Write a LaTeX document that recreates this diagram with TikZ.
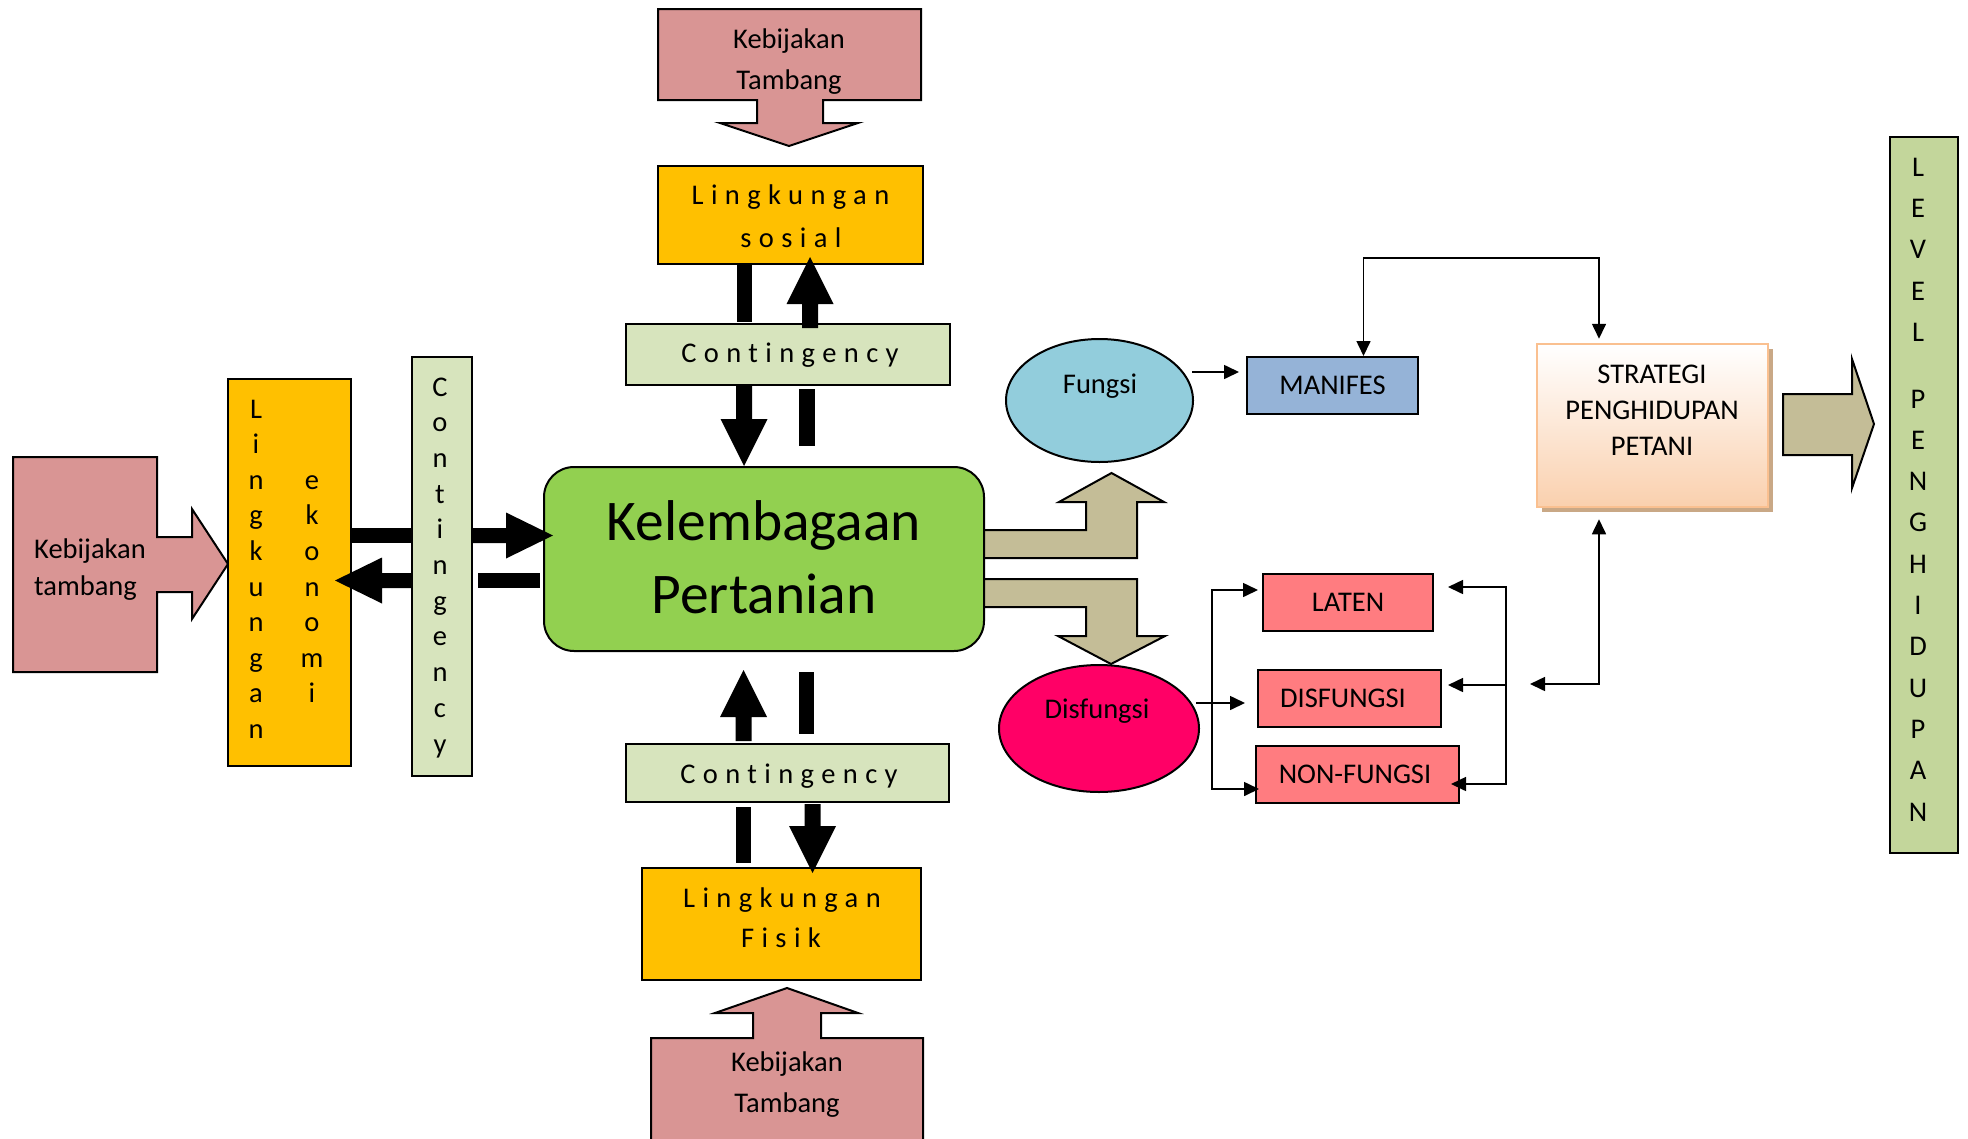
\documentclass[tikz,border=0pt]{standalone}
\usepackage{fontspec}
\setmainfont{Carlito}
\newfontfamily\spacedfont{Carlito}[LetterSpace=26, Ligatures={NoCommon}]
\usetikzlibrary{arrows.meta,shapes.geometric,calc}

\definecolor{kebpink}{HTML}{D99594}
\definecolor{envorange}{HTML}{FFC000}
\definecolor{contgreen}{HTML}{D7E4BD}
\definecolor{coregreen}{HTML}{92D050}
\definecolor{tanarrow}{HTML}{C4BD97}
\definecolor{fungsiblue}{HTML}{92CDDC}
\definecolor{manifesblue}{HTML}{95B3D7}
\definecolor{disfmag}{HTML}{FF0066}
\definecolor{salmon}{HTML}{FF7C80}
\definecolor{levelgreen}{HTML}{C3D69B}
\definecolor{peach}{HTML}{FAD0AE}
\definecolor{peachline}{HTML}{FAC090}
\definecolor{shadowbrown}{HTML}{C9A886}

% thick black block arrows: x/y of the shaft axis, tail, tip
\newcommand{\blkup}[3]{\fill (#1-8,#2) -- (#1-8,#3+47) -- (#1-23.5,#3+47) -- (#1,#3) -- (#1+23.5,#3+47) -- (#1+8,#3+47) -- (#1+8,#2) -- cycle;}
\newcommand{\blkdown}[3]{\fill (#1-8,#2) -- (#1-8,#3-47) -- (#1-23.5,#3-47) -- (#1,#3) -- (#1+23.5,#3-47) -- (#1+8,#3-47) -- (#1+8,#2) -- cycle;}
\newcommand{\blkright}[3]{\fill (#2,#1-7.5) -- (#3-47,#1-7.5) -- (#3-47,#1-23) -- (#3,#1) -- (#3-47,#1+23) -- (#3-47,#1+7.5) -- (#2,#1+7.5) -- cycle;}
\newcommand{\blkleft}[3]{\fill (#2,#1-7.5) -- (#3+47,#1-7.5) -- (#3+47,#1-23) -- (#3,#1) -- (#3+47,#1+23) -- (#3+47,#1+7.5) -- (#2,#1+7.5) -- cycle;}

\begin{document}
\begin{tikzpicture}[x=1pt,y=-1pt,
  every node/.style={font=\fontsize{28.5}{34}\selectfont},
  box/.style={draw=black, line width=2pt, rectangle, inner sep=0pt},
  oval/.style={draw=black, line width=2pt, ellipse, inner sep=0pt},
  txt/.style={inner sep=0pt, anchor=base},
  spaced/.style={txt, font=\spacedfont\fontsize{28.5}{34}\selectfont},
  blockarrow/.style={draw=black, line width=2pt, line join=miter},
  conn/.style={line width=1.6pt, draw=black, -{Triangle[length=15pt,width=14pt]}},
  bothconn/.style={line width=1.6pt, draw=black, {Triangle[length=15pt,width=14pt]}-{Triangle[length=15pt,width=14pt]}},
]
\useasboundingbox (0,0) rectangle (1968,1138);
\clip (0,0) rectangle (1968,1138);

% ---------- policy inputs (pink block arrows) ----------
\draw[blockarrow, fill=kebpink] (658,9) -- (921,9) -- (921,100) -- (823,100) -- (823,123) -- (858,123)
  -- (789,146) -- (720,123) -- (757,123) -- (757,100) -- (658,100) -- cycle;
\node[txt] (kebtop1) at (789,48) {Kebijakan};
\node[txt] (kebtop2) at (789,89) {Tambang};

\draw[blockarrow, fill=kebpink] (651,1160) -- (651,1038) -- (753,1038) -- (753,1013) -- (715,1013)
  -- (787,988) -- (858,1013) -- (821,1013) -- (821,1038) -- (923,1038) -- (923,1160);
\node[txt] (kebbot1) at (787,1071) {Kebijakan};
\node[txt] (kebbot2) at (787,1112) {Tambang};

\draw[blockarrow, fill=kebpink] (13,457) -- (157,457) -- (157,537) -- (192,537) -- (192,509)
  -- (228,564) -- (192,619) -- (192,592) -- (157,592) -- (157,672) -- (13,672) -- cycle;
\node[txt, anchor=base west] (kebleft1) at (34,558) {Kebijakan};
\node[txt, anchor=base west] (kebleft2) at (34,595) {tambang};

% ---------- environments ----------
\node[box, fill=envorange, minimum width=265, minimum height=98] (sosial) at (790.5,215) {};
\node[spaced] (sosial1) at (790.5,204) {Lingkungan};
\node[spaced] (sosial2) at (791,247) {sosial};

\node[box, fill=envorange, minimum width=279, minimum height=112] (fisik) at (781.5,924) {};
\node[spaced] (fisik1) at (782,907) {Lingkungan};
\node[spaced] (fisik2) at (781,947) {Fisik};

\node[box, fill=envorange, minimum width=123, minimum height=387] (ekonomi) at (289.5,572.5) {};
\foreach \ch [count=\i from 0] in {L,i,n,g,k,u,n,g,a,n}
  \node[txt] (ekoA\i) at (256,418+35.6*\i) {\ch};
\foreach \ch [count=\i from 2] in {e,k,o,n,o,m,i}
  \node[txt] (ekoB\i) at (312,418+35.6*\i) {\ch};

% ---------- contingency bands ----------
\node[box, fill=contgreen, minimum width=324, minimum height=61] (conttop) at (788,354.5) {};
\node[spaced] (conttopT) at (790,362) {Contingency};
\node[box, fill=contgreen, minimum width=323, minimum height=58] (contbot) at (787.5,773) {};
\node[spaced] (contbotT) at (789,783) {Contingency};
\node[box, fill=contgreen, minimum width=60, minimum height=419] (contleft) at (442,566.5) {};
\foreach \ch [count=\i from 0] in {C,o,n,t,i,n,g,e,n,c,y}
  \node[txt] (contL\i) at (440,396+35.7*\i) {\ch};

% ---------- outputs of the core (tan arrows) ----------
\draw[blockarrow, fill=tanarrow] (980,558) -- (1137,558) -- (1137,502) -- (1164,502) -- (1111.5,473)
  -- (1059,502) -- (1086,502) -- (1086,530) -- (980,530) -- cycle;
\draw[blockarrow, fill=tanarrow] (980,579) -- (1137,579) -- (1137,636) -- (1165,636) -- (1111,664)
  -- (1058,636) -- (1086,636) -- (1086,607) -- (980,607) -- cycle;

% ---------- core institution ----------
\node[box, fill=coregreen, rounded corners=30, minimum width=440, minimum height=184] (core) at (764,559) {};
\node[txt, font=\fontsize{57.5}{68}\selectfont] (core1) at (764,540) {Kelembagaan};
\node[txt, font=\fontsize{57.5}{68}\selectfont] (core2) at (764,613) {Pertanian};

% ---------- thick black links ----------
\fill (737,264) rectangle (752,322);
\blkup{810}{328}{257}
\blkdown{744}{385}{466}
\fill (799,389) rectangle (815,446);
\blkup{743.5}{741}{670}
\fill (799,672) rectangle (814,734);
\fill (736,807) rectangle (751,863);
\blkdown{812.5}{804}{873}
\fill (351,528) rectangle (412,543);
\blkright{535.5}{472}{553}
\blkleft{580.5}{412}{335}
\fill (478,573) rectangle (540,588);

% ---------- function / dysfunction ----------
\node[oval, fill=fungsiblue, minimum width=187, minimum height=123] (fungsi) at (1099.5,400.5) {};
\node[txt] (fungsiT) at (1100,393) {Fungsi};
\node[oval, fill=disfmag, minimum width=200, minimum height=127] (disf) at (1099,728.5) {};
\node[txt] (disfT) at (1097,718) {Disfungsi};

\node[box, fill=manifesblue, minimum width=171, minimum height=57] (manifes) at (1332.5,385.5) {MANIFES};
\node[box, fill=salmon, minimum width=170, minimum height=57] (laten) at (1348,602.5) {LATEN};
\node[box, fill=salmon, minimum width=183, minimum height=57] (disfbox) at (1349.5,698.5) {DISFUNGSI\hspace*{13pt}};
\node[box, fill=salmon, minimum width=203, minimum height=57] (nonf) at (1357.5,774.5) {NON-FUNGSI\hspace*{5pt}};

% ---------- livelihood strategy ----------
\fill[shadowbrown] (1542,349) rectangle (1773,512);
\node[draw=peachline, line width=2.5pt, inner sep=0pt, top color=white, bottom color=peach,
  minimum width=231, minimum height=163] (strategi) at (1652.5,425.5) {};
\node[txt] (strat1) at (1652,383) {STRATEGI};
\node[txt] (strat2) at (1652,419) {PENGHIDUPAN};
\node[txt] (strat3) at (1652,455) {PETANI};

\draw[blockarrow, fill=tanarrow] (1783,394) -- (1852,394) -- (1852,359) -- (1874,424) -- (1852,488)
  -- (1852,455) -- (1783,455) -- cycle;

\node[box, fill=levelgreen, minimum width=68, minimum height=716] (level) at (1924,495) {};
\foreach \ch [count=\i from 0] in {L,E,V,E,L}
  \node[txt] (levA\i) at (1918,176+41.4*\i) {\ch};
\foreach \ch [count=\i from 0] in {P,E,N,G,H,I,D,U,P,A,N}
  \node[txt] (levB\i) at (1918,408+41.3*\i) {\ch};

% ---------- thin connectors ----------
\coordinate (fungsiOut) at (1192,372);
\draw[conn] (fungsiOut) -- ([xshift=-7pt,yshift=13.5pt]manifes.west);

\coordinate (topBend) at (1599,258);
\draw[bothconn] ([xshift=31pt]manifes.north) |- (topBend) -- ([xshift=-53.5pt,yshift=4pt]strategi.north);

\coordinate (feedTip) at (1530,684);
\draw[bothconn] (feedTip) -| ([xshift=-53.5pt,yshift=-11pt]strategi.south);

\coordinate (disfOut) at (1196,703);
\draw[conn] (disfOut) -- ([xshift=-12pt,yshift=-4.5pt]disfbox.west);
\coordinate (leftRailTop) at (1212,590);
\coordinate (leftRailBot) at (1212,789);
\draw[bothconn] ([xshift=-4pt,yshift=12.5pt]laten.west) -- (leftRailTop) -- (leftRailBot) -- ([xshift=4pt,yshift=-14.5pt]nonf.west);

\coordinate (rightRailTop) at (1506,587);
\coordinate (rightRailMid) at (1506,685);
\coordinate (rightRailBot) at (1506,784);
\draw[bothconn] ([xshift=14pt,yshift=15.5pt]laten.east) -- (rightRailTop) -- (rightRailBot) -- ([xshift=-9pt,yshift=-9.5pt]nonf.east);
\draw[conn] (rightRailMid) -- ([xshift=6pt,yshift=13.5pt]disfbox.east);
\end{tikzpicture}
\end{document}
